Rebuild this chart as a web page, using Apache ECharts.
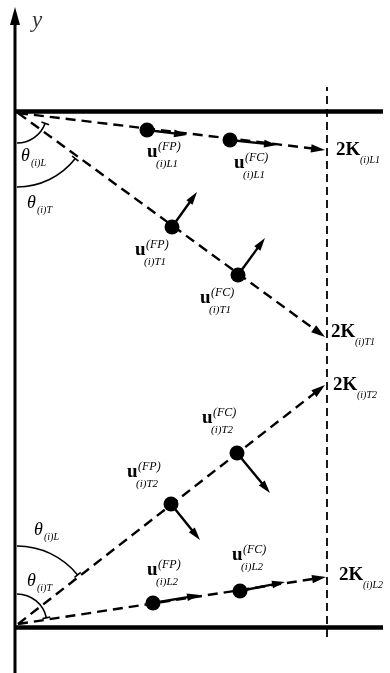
<!DOCTYPE html>
<html>
<head>
<meta charset="utf-8">
<script src="https://cdn.jsdelivr.net/npm/echarts@6/dist/echarts.min.js"></script>
<style>
  html, body { margin: 0; padding: 0; background: #fff; }
  #chart { width: 390px; height: 673px; }
</style>
</head>
<body>
<div id="chart"></div>
<script>
// diagram units: x measured from the y axis, y up from the lower wall
const yAxisFrom = [[0, -46]]
const yAxisTo = [[0, 620]]
const walls = [
  [[0, 516], [368, 516]],
  [[0, 0], [368, 0]]
]
const midLine = [[312, -10], [312, 540]]

// dashed paths from the two wall corners to the image points 2K
const rayNames = ['L1', 'T1', 'T2', 'L2']
const rayStart = [[3, 514], [3, 514], [3, 3], [3, 3]]
const rayEnd = [[310, 477], [310, 290], [310, 242], [311, 50]]

// particles on each path and the tips of their velocity arrows
const particleFP = [[132, 497], [157, 400], [156, 123], [138, 24]]
const particleFC = [[215, 487], [223, 352], [222, 174], [225, 36]]
const velocityFP = [[172, 492], [182, 435], [185, 87], [185, 32]]
const velocityFC = [[262, 482], [250, 389], [255, 134], [270, 45]]

// label anchors (left edge of the u, middle height)
const labelFP = [[132, 475], [120, 377], [112, 155], [132, 57]]
const labelFC = [[219, 464], [185, 329], [187, 209], [217, 72]]
const labelK = [[321, 477], [316, 295], [318, 242], [324, 52]]

// angle arcs at the corners
const arcCenter = [[2, 514], [2, 514], [2, 3], [2, 3]]
const arcRadius = [30, 74, 78, 30]
const arcFrom = [-90, -90, 90, 90]
const arcTo = [-20, -38, 39, 12]
const thetaPos = [[6, 471], [12, 424], [19, 97], [12, 46]]
const thetaSub = ['(i)L', '(i)T', '(i)L', '(i)T']

const SERIF = '"Liberation Serif", "DejaVu Serif", serif'

const chart = echarts.init(document.getElementById('chart'))

// straight segments with a filled arrow head drawn at the far end
function arrowSeries(from, to, width, dash, headLen, headHalf) {
  return {
    type: 'custom',
    silent: true,
    data: from.map((s, i) => [s[0], s[1], to[i][0], to[i][1]]),
    renderItem: (params, api) => {
      const a = api.coord([api.value(0), api.value(1)])
      const b = api.coord([api.value(2), api.value(3)])
      const len = Math.hypot(b[0] - a[0], b[1] - a[1])
      const dx = (b[0] - a[0]) / len, dy = (b[1] - a[1]) / len
      const bx = b[0] - dx * headLen, by = b[1] - dy * headLen
      return {
        type: 'group',
        children: [
          {
            type: 'line',
            shape: { x1: a[0], y1: a[1], x2: bx + dx * 2, y2: by + dy * 2 },
            style: { stroke: '#000', lineWidth: width, lineDash: dash }
          },
          {
            type: 'polygon',
            shape: { points: [[b[0], b[1]], [bx - dy * headHalf, by + dx * headHalf], [bx + dy * headHalf, by - dx * headHalf]] },
            style: { fill: '#000' }
          }
        ]
      }
    }
  }
}

function uLabel(list, sup) {
  return {
    type: 'custom',
    silent: true,
    data: list.map((p, i) => [p[0], p[1], i]),
    renderItem: (params, api) => {
      const p = api.coord([api.value(0), api.value(1)])
      const i = api.value(2)
      return {
        type: 'group',
        children: [
          { type: 'text', x: p[0], y: p[1], style: { text: 'u', font: 'bold 19px ' + SERIF, fill: '#000', align: 'left', verticalAlign: 'middle' } },
          { type: 'text', x: p[0] + 11, y: p[1] - 5, style: { text: sup, font: 'italic 12px ' + SERIF, fill: '#000', align: 'left', verticalAlign: 'middle' } },
          { type: 'text', x: p[0] + 9, y: p[1] + 12, style: { text: '(i)' + rayNames[i], font: 'italic 11px ' + SERIF, fill: '#000', align: 'left', verticalAlign: 'middle' } }
        ]
      }
    }
  }
}

chart.setOption({
  animation: false,
  grid: { left: 0, right: 0, top: 0, bottom: 0 },
  xAxis: { type: 'value', min: -15, max: 375, show: false },
  yAxis: { type: 'value', min: -46, max: 627, show: false },
  series: [
    arrowSeries(yAxisFrom, yAxisTo, 3, null, 18, 5),
    {
      type: 'lines', coordinateSystem: 'cartesian2d', silent: true,
      data: walls.map(w => ({ coords: w })),
      lineStyle: { color: '#000', width: 4.5, opacity: 1 },
      symbol: 'none'
    },
    {
      type: 'lines', coordinateSystem: 'cartesian2d', silent: true,
      data: [{ coords: midLine }],
      lineStyle: { color: '#000', width: 1.8, type: [8, 5], opacity: 1 },
      symbol: 'none'
    },
    arrowSeries(rayStart, rayEnd, 2.4, [10, 6], 14, 4.2),
    arrowSeries(particleFP.concat(particleFC), velocityFP.concat(velocityFC), 2.4, null, 13, 3.8),
    {
      type: 'scatter', silent: true,
      data: particleFP.concat(particleFC),
      symbol: 'circle', symbolSize: 15,
      itemStyle: { color: '#000', opacity: 1 }
    },
    {
      type: 'custom', silent: true,
      data: arcCenter.map((c, i) => [c[0], c[1], i]),
      renderItem: (params, api) => {
        const i = api.value(2)
        const c = api.coord([api.value(0), api.value(1)])
        const r = api.size([arcRadius[i], 0])[0]
        const lo = Math.min(arcFrom[i], arcTo[i])
        const hi = Math.max(arcFrom[i], arcTo[i])
        const t = -arcTo[i] * Math.PI / 180
        return {
          type: 'group',
          children: [
            {
              type: 'arc',
              shape: { cx: c[0], cy: c[1], r: r, startAngle: -hi * Math.PI / 180, endAngle: -lo * Math.PI / 180, clockwise: true },
              style: { stroke: '#000', fill: null, lineWidth: 1.6 }
            },
            {
              type: 'line',
              shape: {
                x1: c[0] + (r - 4) * Math.cos(t), y1: c[1] + (r - 4) * Math.sin(t),
                x2: c[0] + (r + 4) * Math.cos(t), y2: c[1] + (r + 4) * Math.sin(t)
              },
              style: { stroke: '#000', lineWidth: 1.6 }
            }
          ]
        }
      }
    },
    {
      type: 'custom', silent: true,
      data: thetaPos.map((p, i) => [p[0], p[1], i]),
      renderItem: (params, api) => {
        const p = api.coord([api.value(0), api.value(1)])
        const i = api.value(2)
        return {
          type: 'group',
          children: [
            { type: 'text', x: p[0], y: p[1], style: { text: 'θ', font: 'italic 18px ' + SERIF, fill: '#000', align: 'left', verticalAlign: 'middle' } },
            { type: 'text', x: p[0] + 10, y: p[1] + 7, style: { text: thetaSub[i], font: 'italic 10px ' + SERIF, fill: '#000', align: 'left', verticalAlign: 'middle' } }
          ]
        }
      }
    },
    {
      type: 'custom', silent: true,
      data: labelK.map((p, i) => [p[0], p[1], i]),
      renderItem: (params, api) => {
        const p = api.coord([api.value(0), api.value(1)])
        const i = api.value(2)
        return {
          type: 'group',
          children: [
            { type: 'text', x: p[0], y: p[1], style: { text: '2K', font: 'bold 19px ' + SERIF, fill: '#000', align: 'left', verticalAlign: 'middle' } },
            { type: 'text', x: p[0] + 24, y: p[1] + 10, style: { text: '(i)' + rayNames[i], font: 'italic 10px ' + SERIF, fill: '#000', align: 'left', verticalAlign: 'middle' } }
          ]
        }
      }
    },
    uLabel(labelFP, '(FP)'),
    uLabel(labelFC, '(FC)'),
    {
      type: 'scatter', silent: true,
      data: [[17, 606]],
      symbolSize: 0,
      label: { show: true, position: 'right', distance: 0, formatter: 'y', fontFamily: SERIF, fontStyle: 'italic', fontSize: 23, color: '#000' }
    }
  ]
})
</script>
</body>
</html>
